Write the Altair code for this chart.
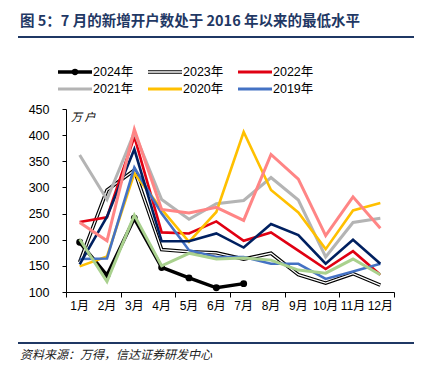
import altair as alt
import pandas as pd

months = list(range(1, 13))
month_labels = [f"{m}月" for m in months]

y2024 = [195, 132, 241, 147, 127, 108, 116]
y2023 = [157, 295, 333, 181, 177, 175, 163, 174, 133, 117, 135, 113]
y2022 = [234, 243, 397, 214, 212, 235, 198, 214, 179, 144, 178, 133]
y2021 = [362, 277, 405, 277, 239, 269, 275, 319, 276, 167, 233, 241]
y2020 = [149, 168, 327, 258, 196, 253, 406, 295, 252, 182, 256, 270]
y2019 = [163, 164, 338, 250, 180, 167, 167, 154, 154, 125, 139, 154]
y2018 = [153, 244, 373, 197, 197, 212, 185, 230, 209, 154, 200, 154]
y2017 = [233, 198, 411, 258, 251, 262, 237, 363, 316, 208, 282, 222]
y2016 = [201, 120, 247, 150, 174, 163, 165, 161, 142, 136, 163, 133]

title_text = "图 5：7 月的新增开户数处于 2016 年以来的最低水平"
source_text = "资料来源：万得，信达证券研发中心"
unit_text = "万 户"

W, H = 328, 183
FONT = "Liberation Sans, Noto Sans CJK SC"
NAVY_LINE = "#1F3864"

x_enc = alt.X("month:Q",
              scale=alt.Scale(domain=[0.5, 12.5], nice=False, zero=False),
              axis=alt.Axis(values=[m + 0.5 for m in range(0, 13)], labels=False,
                            tickSize=5, title=None, grid=False,
                            domainColor="black", tickColor="black"))
y_enc = alt.Y("value:Q",
              scale=alt.Scale(domain=[100, 450], nice=False, zero=False),
              axis=alt.Axis(values=list(range(100, 451, 50)), tickSize=4,
                            labelPadding=13, labelFontSize=12.5, labelFont=FONT,
                            labelColor="black", title=None, grid=False,
                            domainColor="black", tickColor="black"))


def df_for(vals):
    return pd.DataFrame({"month": months[:len(vals)], "value": vals})


def line(vals, color, width):
    return alt.Chart(df_for(vals)).mark_line(color=color, strokeWidth=width).encode(x=x_enc, y=y_enc)


layers = []
# 2024 (drawn first, Excel order)
layers.append(line(y2024, "black", 3.5))
layers.append(alt.Chart(df_for(y2024)).mark_point(filled=True, color="black", size=48, opacity=1).encode(x=x_enc, y=y_enc))
# 2023 double line
layers.append(line(y2023, "black", 3.6))
layers.append(line(y2023, "white", 1.3))
layers.append(line(y2022, "#E00012", 2.6))
layers.append(line(y2021, "#B4B4B4", 3.0))
layers.append(line(y2020, "#FFC000", 2.6))
layers.append(line(y2019, "#4472C4", 2.6))
layers.append(line(y2018, "#002060", 2.6))
layers.append(line(y2017, "#FF8585", 3.0))
layers.append(line(y2016, "#A9D18E", 3.0))

# month labels
layers.append(alt.Chart(pd.DataFrame({"month": months, "lab": month_labels})).mark_text(
    font=FONT, fontSize=12, color="black", baseline="middle").encode(
    x=alt.X("month:Q", scale=alt.Scale(domain=[0.5, 12.5], nice=False, zero=False)),
    y=alt.value(H + 14), text="lab:N"))

one = pd.DataFrame({"a": [0]})


def txt(t, x, y, **kw):
    return alt.Chart(pd.DataFrame({"t": [t]})).mark_text(baseline="middle", align="left", **kw).encode(
        x=alt.value(x), y=alt.value(y), text="t:N")


def rule(x1, x2, y, color, width):
    return alt.Chart(one).mark_rule(color=color, strokeWidth=width).encode(
        x=alt.value(x1), x2=alt.value(x2), y=alt.value(y))


# unit label
layers.append(txt(unit_text, 5, 9, font="Noto Sans CJK SC", fontSize=11, color="black", fontStyle="italic"))

# title, header line, footer line, source
layers.append(txt(title_text, -46, -87, font="Noto Sans CJK SC", fontSize=14.5, fontWeight="bold", color=NAVY_LINE))
layers.append(rule(-48, 352, -72, NAVY_LINE, 2))
layers.append(rule(-48, 352, 234, NAVY_LINE, 2))
layers.append(txt(source_text, -46, 246, font="Noto Sans CJK SC", fontSize=12, color="#222222", fontStyle="italic"))

# legend
leg_items = [
    ("2024年", 0, 0), ("2023年", 1, 0), ("2022年", 2, 0),
    ("2021年", 0, 1), ("2020年", 1, 1), ("2019年", 2, 1),
]
leg_colors = {"2022年": "#E00012", "2021年": "#B4B4B4", "2020年": "#FFC000", "2019年": "#4472C4"}
for name, c, r in leg_items:
    x0 = -8 + c * 90
    yy = -37 + r * 17
    if name == "2024年":
        layers.append(rule(x0, x0 + 34, yy, "black", 3.5))
        layers.append(alt.Chart(one).mark_point(filled=True, color="black", size=40, opacity=1).encode(
            x=alt.value(x0 + 17), y=alt.value(yy)))
    elif name == "2023年":
        layers.append(rule(x0, x0 + 34, yy, "black", 3.6))
        layers.append(rule(x0, x0 + 34, yy, "white", 1.3))
    else:
        layers.append(rule(x0, x0 + 34, yy, leg_colors[name], 3))
    layers.append(txt(name, x0 + 35, yy, font=FONT, fontSize=12.5, color="black"))

chart = alt.layer(*layers).properties(
    width=W, height=H,
    autosize=alt.AutoSizeParams(type="none"),
    padding={"left": 58, "top": 101, "right": 20, "bottom": 70},
    background="white",
).configure_view(stroke=None)

chart.save("out.html", embed_options={"renderer": "svg", "actions": False})
